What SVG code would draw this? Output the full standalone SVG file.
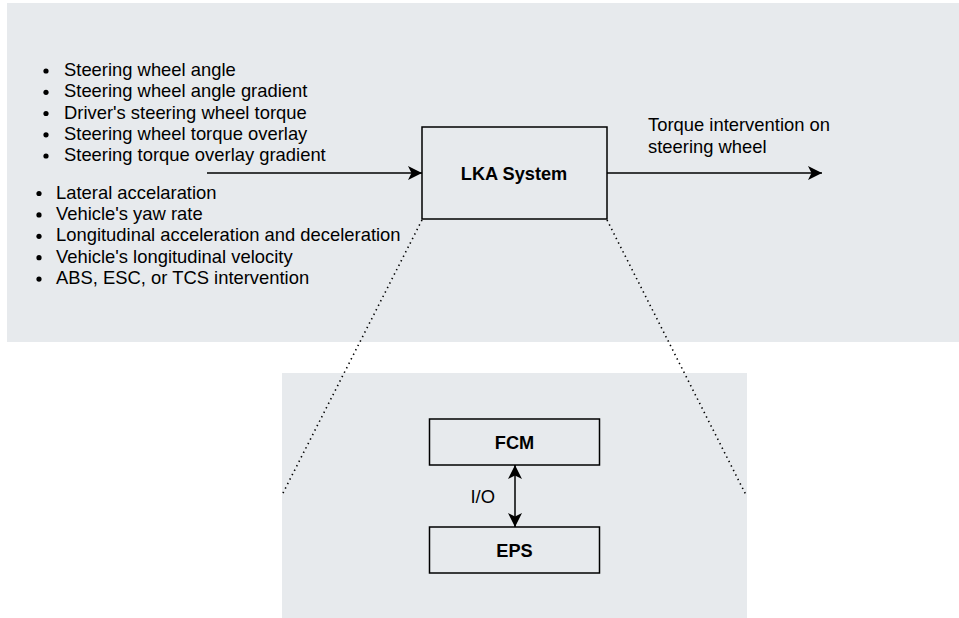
<svg xmlns="http://www.w3.org/2000/svg" width="959" height="618" viewBox="0 0 959 618">
  <style>
    .panel { fill: #e7eaed; }
    .box { fill: none; stroke: #000; stroke-width: 1.5; }
    .txt { font-family: "Liberation Sans", Arial, Helvetica, sans-serif; font-size: 18.4px; fill: #000; }
    .bold { font-weight: bold; text-anchor: middle; font-size: 18.2px; }
    .edge { stroke: #000; stroke-width: 1.5; fill: none; }
    .dots { stroke: #000; stroke-width: 1.6; fill: none; stroke-dasharray: 1.4 3.6; }
    .bullet { fill: #000; }
  </style>
  <defs>
    <marker id="arrow" markerUnits="userSpaceOnUse" markerWidth="16" markerHeight="16" viewBox="0 -8 16 16" refX="14" refY="0" orient="auto-start-reverse">
      <path d="M0,-7 L14,0 L0,7 L3.5,0 z" fill="#000"/>
    </marker>
  </defs>

  <!-- background panels -->
  <g id="panel-system">
    <rect class="panel" x="7" y="3" width="952" height="339"/>
  </g>
  <g id="panel-detail">
    <rect class="panel" x="282" y="373" width="465" height="245"/>
  </g>

  <!-- input signal list -->
  <g id="inputs-driver" class="txt">
    <circle class="bullet" cx="46" cy="71" r="2.6"/>
    <text x="64" y="76">Steering wheel angle</text>
    <circle class="bullet" cx="46" cy="92.3" r="2.6"/>
    <text x="64" y="97.3">Steering wheel angle gradient</text>
    <circle class="bullet" cx="46" cy="113.5" r="2.6"/>
    <text x="64" y="118.5">Driver's steering wheel torque</text>
    <circle class="bullet" cx="46" cy="134.8" r="2.6"/>
    <text x="64" y="139.8">Steering wheel torque overlay</text>
    <circle class="bullet" cx="46" cy="156" r="2.6"/>
    <text x="64" y="161">Steering torque overlay gradient</text>
  </g>
  <g id="inputs-vehicle" class="txt">
    <circle class="bullet" cx="39" cy="193.5" r="2.6"/>
    <text x="56" y="198.5">Lateral accelaration</text>
    <circle class="bullet" cx="39" cy="214.9" r="2.6"/>
    <text x="56" y="219.9">Vehicle's yaw rate</text>
    <circle class="bullet" cx="39" cy="236.3" r="2.6"/>
    <text x="56" y="241.3">Longitudinal acceleration and deceleration</text>
    <circle class="bullet" cx="39" cy="257.7" r="2.6"/>
    <text x="56" y="262.7">Vehicle's longitudinal velocity</text>
    <circle class="bullet" cx="39" cy="279.1" r="2.6"/>
    <text x="56" y="284.1">ABS, ESC, or TCS intervention</text>
  </g>

  <!-- output label -->
  <g id="output-label" class="txt">
    <text x="648" y="131.3">Torque intervention on</text>
    <text x="648" y="152.6">steering wheel</text>
  </g>

  <!-- nodes -->
  <g id="lka-system">
    <rect class="box" x="422" y="127" width="185" height="92"/>
    <text class="txt bold" x="514" y="179.5">LKA System</text>
  </g>
  <g id="fcm">
    <rect class="box" x="429.5" y="419" width="170" height="46"/>
    <text class="txt bold" x="514.5" y="449">FCM</text>
  </g>
  <g id="eps">
    <rect class="box" x="429.5" y="527" width="170" height="46"/>
    <text class="txt bold" x="514.5" y="557">EPS</text>
  </g>

  <!-- connectors -->
  <g id="connectors">
    <line class="edge" x1="207" y1="173" x2="422" y2="173" marker-end="url(#arrow)"/>
    <line class="edge" x1="607" y1="173" x2="822" y2="173" marker-end="url(#arrow)"/>
    <line class="edge" x1="515" y1="465" x2="515" y2="527" marker-start="url(#arrow)" marker-end="url(#arrow)"/>
    <text class="txt" x="470.5" y="502.7">I/O</text>
    <line class="dots" x1="422" y1="220" x2="282" y2="495"/>
    <line class="dots" x1="607" y1="220" x2="746" y2="495"/>
  </g>
</svg>
